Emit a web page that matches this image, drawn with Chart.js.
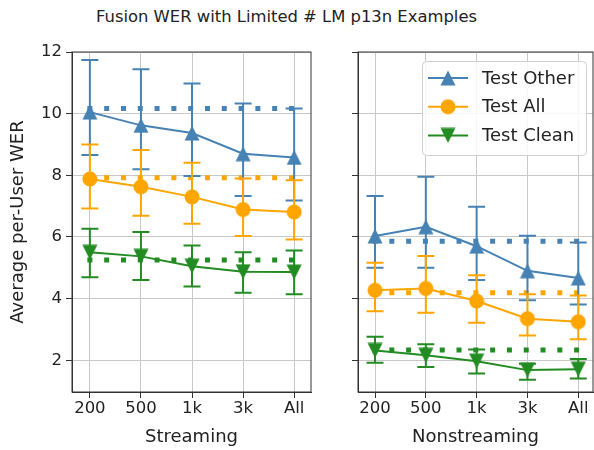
<!DOCTYPE html>
<html><head><meta charset="utf-8">
<script src="https://cdn.jsdelivr.net/npm/chart.js@4"></script>
<style>
html,body{margin:0;padding:0;background:#fff;}
#wrap{position:relative;width:594px;height:450px;overflow:hidden;background:#fff;}
#title{position:absolute;left:0;top:6px;width:573px;text-align:center;font-family:"DejaVu Sans";font-size:16.4px;color:#222;line-height:22px;white-space:nowrap;}
#c1{position:absolute;left:0;top:0;}
#c2{position:absolute;left:330px;top:0;}
</style></head><body>
<div id="wrap">
<div id="title">Fusion WER with Limited # LM p13n Examples</div>
<canvas id="c1" width="320" height="450" style="width:320px;height:450px"></canvas>
<canvas id="c2" width="264" height="450" style="width:264px;height:450px"></canvas>
</div>
<script>
// ---------- data ----------
const categories = ['200', '500', '1k', '3k', 'All'];
const yTicks = [2, 4, 6, 8, 10, 12];
const seriesNames = ['Test Other', 'Test All', 'Test Clean'];
const panelTitles = ['Streaming', 'Nonstreaming'];
const yTitle = 'Average per-User WER';

// Streaming
const otherS = [10.05, 9.62, 9.37, 8.70, 8.58];
const otherSLow = [8.66, 8.20, 7.98, 7.33, 7.18];
const otherSHigh = [11.74, 11.44, 10.98, 10.33, 10.17];
const allS = [7.88, 7.63, 7.30, 6.89, 6.81];
const allSLow = [6.92, 6.69, 6.43, 6.03, 5.92];
const allSHigh = [9.00, 8.82, 8.41, 7.90, 7.84];
const cleanS = [5.50, 5.37, 5.05, 4.87, 4.86];
const cleanSLow = [4.69, 4.60, 4.39, 4.19, 4.14];
const cleanSHigh = [6.27, 6.16, 5.72, 5.50, 5.56];
const baselineS = [10.17, 7.92, 5.25];

// Nonstreaming
const otherN = [6.03, 6.33, 5.70, 4.90, 4.67];
const otherNLow = [5.00, 5.00, 4.60, 3.95, 3.81];
const otherNHigh = [7.33, 7.95, 6.98, 6.04, 5.82];
const allN = [4.27, 4.33, 3.92, 3.35, 3.25];
const allNLow = [3.59, 3.54, 3.22, 2.80, 2.68];
const allNHigh = [5.16, 5.38, 4.76, 4.14, 4.10];
const cleanN = [2.32, 2.16, 1.97, 1.68, 1.71];
const cleanNLow = [1.92, 1.78, 1.57, 1.37, 1.41];
const cleanNHigh = [2.76, 2.52, 2.35, 1.89, 2.04];
const baselineN = [5.86, 4.19, 2.33];

// ---------- styles ----------
const COLORS = ['#4682b4', '#ffa500', '#228b22'];
const FONT = '"DejaVu Sans", sans-serif';
const TEXT = '#222';
const GRID = '#c8c8c8';
const AXIS = '#333';

function markerCanvas(kind, color) {
  const c = document.createElement('canvas');
  c.width = 16; c.height = 16;
  const g = c.getContext('2d');
  g.fillStyle = color;
  g.beginPath();
  if (kind === 'up') { g.moveTo(8, 0.5); g.lineTo(15.5, 15.5); g.lineTo(0.5, 15.5); }
  else if (kind === 'down') { g.moveTo(0.5, 0.5); g.lineTo(15.5, 0.5); g.lineTo(8, 15.5); }
  else { g.arc(8, 8, 7.5, 0, Math.PI * 2); }
  g.closePath();
  g.fill();
  return c;
}
const MARKERS = [markerCanvas('up', COLORS[0]), markerCanvas('circle', COLORS[1]), markerCanvas('down', COLORS[2])];

function makeDatasets(vals, lows, highs) {
  return vals.map((v, k) => ({
    label: seriesNames[k],
    data: v.map((y, i) => ({ x: i, y: y })),
    errLow: lows[k],
    errHigh: highs[k],
    borderColor: COLORS[k],
    backgroundColor: COLORS[k],
    borderWidth: 2,
    tension: 0,
    fill: false,
    pointStyle: MARKERS[k],
    pointRadius: 8,
    pointHoverRadius: 8,
    order: 3 - k,
    clip: false
  }));
}

const panelPlugin = {
  id: 'panel',
  beforeDatasetsDraw(chart, args, opts) {
    const { ctx, scales: { x, y } } = chart;
    ctx.save();
    ctx.lineWidth = 5;
    ctx.lineCap = 'butt';
    ctx.setLineDash([5, 11.8]);
    opts.baselines.forEach((b, k) => {
      const py = y.getPixelForValue(b);
      ctx.strokeStyle = COLORS[k];
      ctx.beginPath();
      ctx.moveTo(x.getPixelForValue(0) - 2.5, py);
      ctx.lineTo(x.getPixelForValue(categories.length - 1) + 2.5, py);
      ctx.stroke();
    });
    ctx.restore();
  },
  beforeDatasetDraw(chart, args) {
    const { ctx, scales: { x, y } } = chart;
    const ds = chart.data.datasets[args.index];
    ctx.save();
    ctx.strokeStyle = ds.borderColor;
    ctx.lineWidth = 2;
    ds.data.forEach((p, i) => {
      const px = x.getPixelForValue(p.x);
      const lo = y.getPixelForValue(ds.errLow[i]);
      const hi = y.getPixelForValue(ds.errHigh[i]);
      ctx.beginPath();
      ctx.moveTo(px, lo); ctx.lineTo(px, hi);
      ctx.moveTo(px - 8.5, lo); ctx.lineTo(px + 8.5, lo);
      ctx.moveTo(px - 8.5, hi); ctx.lineTo(px + 8.5, hi);
      ctx.stroke();
    });
    ctx.restore();
  },
  afterDatasetsDraw(chart) {
    const { ctx, chartArea: a } = chart;
    ctx.save();
    ctx.strokeStyle = AXIS;
    ctx.lineWidth = 1;
    ctx.strokeRect(a.left, a.top, a.right - a.left, a.bottom - a.top);
    ctx.restore();
  },
  afterDraw(chart, args, opts) {
    if (!opts.legend) return;
    const { ctx, chartArea: a } = chart;
    ctx.save();
    const L = a.right - 171, T = a.top + 9, W = 164, H = 94;
    ctx.fillStyle = 'rgba(255,255,255,0.85)';
    ctx.strokeStyle = '#d0d0d0';
    ctx.lineWidth = 1;
    ctx.beginPath();
    ctx.roundRect(L + 0.5, T + 0.5, W, H, 4);
    ctx.fill(); ctx.stroke();
    ctx.font = '18px ' + FONT;
    ctx.textBaseline = 'middle';
    ctx.fillStyle = TEXT;
    seriesNames.forEach((name, k) => {
      const ry = T + 17 + k * 28.7;
      ctx.strokeStyle = COLORS[k];
      ctx.lineWidth = 2;
      ctx.beginPath();
      ctx.moveTo(L + 6, ry); ctx.lineTo(L + 46, ry);
      ctx.stroke();
      ctx.drawImage(MARKERS[k], L + 26 - 8, ry - 8);
      ctx.fillStyle = TEXT;
      ctx.fillText(name, L + 60, ry + 1);
    });
    ctx.restore();
  }
};

function makeChart(canvasId, vals, lows, highs, baselines, xTitle, showY, padLeftWidth, padRight, legend, xMin, xMax) {
  return new Chart(document.getElementById(canvasId), {
    type: 'line',
    data: { datasets: makeDatasets(vals, lows, highs) },
    plugins: [panelPlugin],
    options: {
      responsive: false,
      animation: false,
      devicePixelRatio: 1,
      events: [],
      layout: { autoPadding: false, padding: { top: 52, right: padRight, left: 0, bottom: 0 } },
      plugins: {
        legend: { display: false },
        tooltip: { enabled: false },
        title: { display: false },
        panel: { baselines: baselines, legend: legend }
      },
      scales: {
        x: {
          type: 'linear',
          min: xMin, max: xMax,
          afterBuildTicks: (s) => { s.ticks = categories.map((c, i) => ({ value: i })); },
          afterFit: (s) => { s.height = 58; s.paddingLeft = 0; s.paddingRight = 0; },
          ticks: {
            callback: (v) => categories[v],
            font: { family: FONT, size: 16.5 },
            color: TEXT,
            padding: 1,
            autoSkip: false,
            maxRotation: 0
          },
          grid: { color: GRID, lineWidth: 1, tickColor: AXIS, tickLength: 6 },
          border: { color: AXIS, width: 1 },
          title: {
            display: true, text: xTitle, color: TEXT,
            font: { family: FONT, size: 18 },
            padding: { top: 0, bottom: 2 }
          }
        },
        y: {
          type: 'linear',
          min: 0.97, max: 12,
          afterBuildTicks: (s) => { s.ticks = yTicks.map(v => ({ value: v })); },
          afterFit: (s) => { s.width = padLeftWidth; s.paddingTop = 0; s.paddingBottom = 0; },
          ticks: {
            display: showY,
            font: { family: FONT, size: 16.5 },
            color: TEXT,
            padding: 4
          },
          grid: { color: GRID, lineWidth: 1, tickColor: AXIS, tickLength: 6 },
          border: { color: AXIS, width: 1 },
          title: {
            display: showY, text: yTitle, color: TEXT,
            font: { family: FONT, size: 18 },
            padding: { top: 8, bottom: 0 }
          }
        }
      }
    }
  });
}

makeChart('c1', [otherS, allS, cleanS], [otherSLow, allSLow, cleanSLow], [otherSHigh, allSHigh, cleanSHigh],
  baselineS, panelTitles[0], true, 72, 9, false, -0.35, 4.33);
makeChart('c2', [otherN, allN, cleanN], [otherNLow, allNLow, cleanNLow], [otherNHigh, allNHigh, cleanNHigh],
  baselineN, panelTitles[1], false, 28, 1, true, -0.335, 4.29);
</script>
</body></html>
